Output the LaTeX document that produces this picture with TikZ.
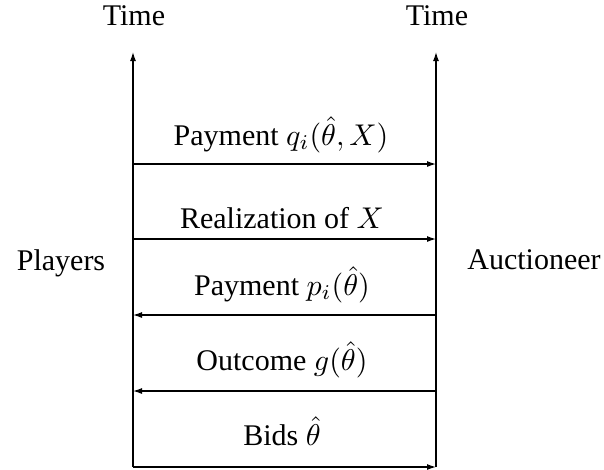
\documentclass[tikz,border=0pt]{standalone}
\usepackage{fontspec}
\setmainfont{Liberation Serif}
\usetikzlibrary{arrows.meta}
\begin{document}
\begin{tikzpicture}[x=0.33333pt,y=-0.33333pt,
  lbl/.style={font=\fontsize{10}{12}\selectfont, inner sep=0pt, anchor=base},
  axis/.style={line width=0.4pt, -{Latex[length=3pt,width=2pt]}},
  msg/.style={line width=0.4pt, -{Latex[length=3pt,width=2pt]}}]
\useasboundingbox (0,0) rectangle (604,469);
% timelines
\coordinate (Lb) at (133,467);
\coordinate (Lt) at (133,52);
\coordinate (Rb) at (436,467);
\coordinate (Rt) at (436,52);
\draw[axis] (Lb) -- (Lt);
\draw[axis] (Rb) -- (Rt);
\node[lbl] (timeL) at (134,25) {Time};
\node[lbl] (timeR) at (437,25) {Time};
\node[lbl] (players) at (61,270) {Players};
\node[lbl] (auct) at (534,269) {Auctioneer};
% messages
\coordinate (l1) at (133,164); \coordinate (r1) at (436,164);
\coordinate (l2) at (133,239); \coordinate (r2) at (436,239);
\coordinate (l3) at (133,315); \coordinate (r3) at (436,315);
\coordinate (l4) at (133,391); \coordinate (r4) at (436,391);
\coordinate (l5) at (133,467); \coordinate (r5) at (436,467);
\draw[msg] (l1) -- (r1);
\draw[msg] (l2) -- (r2);
\draw[msg] (r3) -- (l3);
\draw[msg] (r4) -- (l4);
\draw[msg] (l5) -- (r5);
\node[lbl] (m1) at (281,145) {Payment $q_i(\hat\theta,X)$};
\node[lbl] (m2) at (282,228) {Realization of $X$};
\node[lbl] (m3) at (282,295) {Payment $p_i(\hat\theta)$};
\node[lbl] (m4) at (282,370) {Outcome $g(\hat\theta)$};
\node[lbl] (m5) at (282,445) {Bids $\hat\theta$};
\end{tikzpicture}
\end{document}
